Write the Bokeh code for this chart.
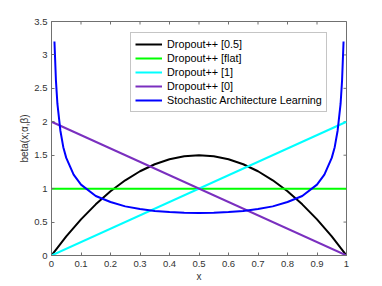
import math
from bokeh.plotting import figure
from bokeh.models import Legend, LegendItem, Range1d, FixedTicker, Spacer
from bokeh.layouts import row
from bokeh.embed import file_html
from bokeh.resources import INLINE

# ---- data ----
x_line = [0.0, 1.0]
flat_vals = [1.0, 1.0]
drop1_vals = [0.0, 2.0]
drop0_vals = [2.0, 0.0]

x_half = [0.0, 0.05, 0.1, 0.15, 0.2, 0.25, 0.3, 0.35, 0.4, 0.45, 0.5,
          0.55, 0.6, 0.65, 0.7, 0.75, 0.8, 0.85, 0.9, 0.95, 1.0]
half_vals = [0.0, 0.285, 0.54, 0.765, 0.96, 1.125, 1.26, 1.365, 1.44, 1.485, 1.5,
             1.485, 1.44, 1.365, 1.26, 1.125, 0.96, 0.765, 0.54, 0.285, 0.0]

x_sal = [0.01, 0.015, 0.02, 0.03, 0.04, 0.05, 0.075, 0.1, 0.15, 0.2, 0.25, 0.3,
         0.35, 0.4, 0.45, 0.5, 0.55, 0.6, 0.65, 0.7, 0.75, 0.8, 0.85, 0.9,
         0.925, 0.95, 0.96, 0.97, 0.98, 0.985, 0.99]
sal_vals = [3.2, 2.62, 2.27, 1.87, 1.62, 1.46, 1.21, 1.06, 0.89, 0.80, 0.735, 0.695,
            0.667, 0.650, 0.640, 0.637, 0.640, 0.650, 0.667, 0.695, 0.735, 0.80,
            0.89, 1.06, 1.21, 1.46, 1.62, 1.87, 2.27, 2.62, 3.2]

x_ticks = [0, 0.1, 0.2, 0.3, 0.4, 0.5, 0.6, 0.7, 0.8, 0.9, 1]
y_ticks = [0, 0.5, 1, 1.5, 2, 2.5, 3, 3.5]
X_MIN, X_MAX = 0, 1
Y_MIN, Y_MAX = 0, 3.5

FONT = "Liberation Sans"
AX = "#707070"
TXT = "#333333"

p = figure(width=357, height=286, output_backend="svg", toolbar_location=None,
           x_range=Range1d(X_MIN, X_MAX), y_range=Range1d(Y_MIN, Y_MAX),
           min_border_left=34, min_border_right=27, min_border_top=21, min_border_bottom=31,
           x_axis_label="x", y_axis_label="beta(x;α,β)")
p.background_fill_color = "white"
p.border_fill_color = "white"
p.outline_line_color = AX
p.grid.visible = False

for ax, ticks in ((p.xaxis[0], x_ticks), (p.yaxis[0], y_ticks)):
    ax.ticker = FixedTicker(ticks=ticks)
    ax.axis_line_color = AX
    ax.major_tick_line_color = AX
    ax.major_tick_in = 3
    ax.major_tick_out = 0
    ax.minor_tick_line_color = None
    ax.major_label_text_font = FONT
    ax.major_label_text_font_size = "9.5px"
    ax.major_label_text_color = TXT
    ax.axis_label_text_font = FONT
    ax.axis_label_text_font_size = "10px"
    ax.axis_label_text_font_style = "normal"
    ax.axis_label_text_color = TXT
p.xaxis[0].major_label_standoff = 5
p.xaxis[0].axis_label_standoff = 1
p.yaxis[0].major_label_standoff = 4
p.yaxis[0].axis_label_standoff = 1

# inward tick marks on the top and right edges of the box (half clipped by the frame)
p.scatter(x_ticks, [Y_MAX] * len(x_ticks), marker="dash", size=6, angle=math.pi / 2,
          line_color=AX, line_width=1)
p.scatter([X_MAX] * len(y_ticks), y_ticks, marker="dash", size=6,
          line_color=AX, line_width=1)

r_half = p.line(x_half, half_vals, line_color="black", line_width=2)
r_flat = p.line(x_line, flat_vals, line_color="#00ff00", line_width=2)
r_one = p.line(x_line, drop1_vals, line_color="#00ffff", line_width=2)
r_zero = p.line(x_line, drop0_vals, line_color="#7a2fbf", line_width=2)
r_sal = p.line(x_sal, sal_vals, line_color="#0000ff", line_width=2)

legend = Legend(items=[
    LegendItem(label="Dropout++ [0.5]", renderers=[r_half]),
    LegendItem(label="Dropout++ [flat]", renderers=[r_flat]),
    LegendItem(label="Dropout++ [1]", renderers=[r_one]),
    LegendItem(label="Dropout++ [0]", renderers=[r_zero]),
    LegendItem(label="Stochastic Architecture Learning", renderers=[r_sal]),
], location=(79, 143))
legend.label_text_font = FONT
legend.label_text_font_size = "10.8px"
legend.label_text_color = "black"
legend.label_height = 14
legend.glyph_height = 14
legend.glyph_width = 27
legend.label_standoff = 5
legend.spacing = 0
legend.padding = 4
legend.margin = 0
legend.border_line_color = "#8c8c8c"
legend.border_line_width = 1
legend.background_fill_alpha = 1
p.add_layout(legend)

layout = row(Spacer(width=16, height=286), p)
open("out.html", "w").write(file_html(layout, INLINE))
